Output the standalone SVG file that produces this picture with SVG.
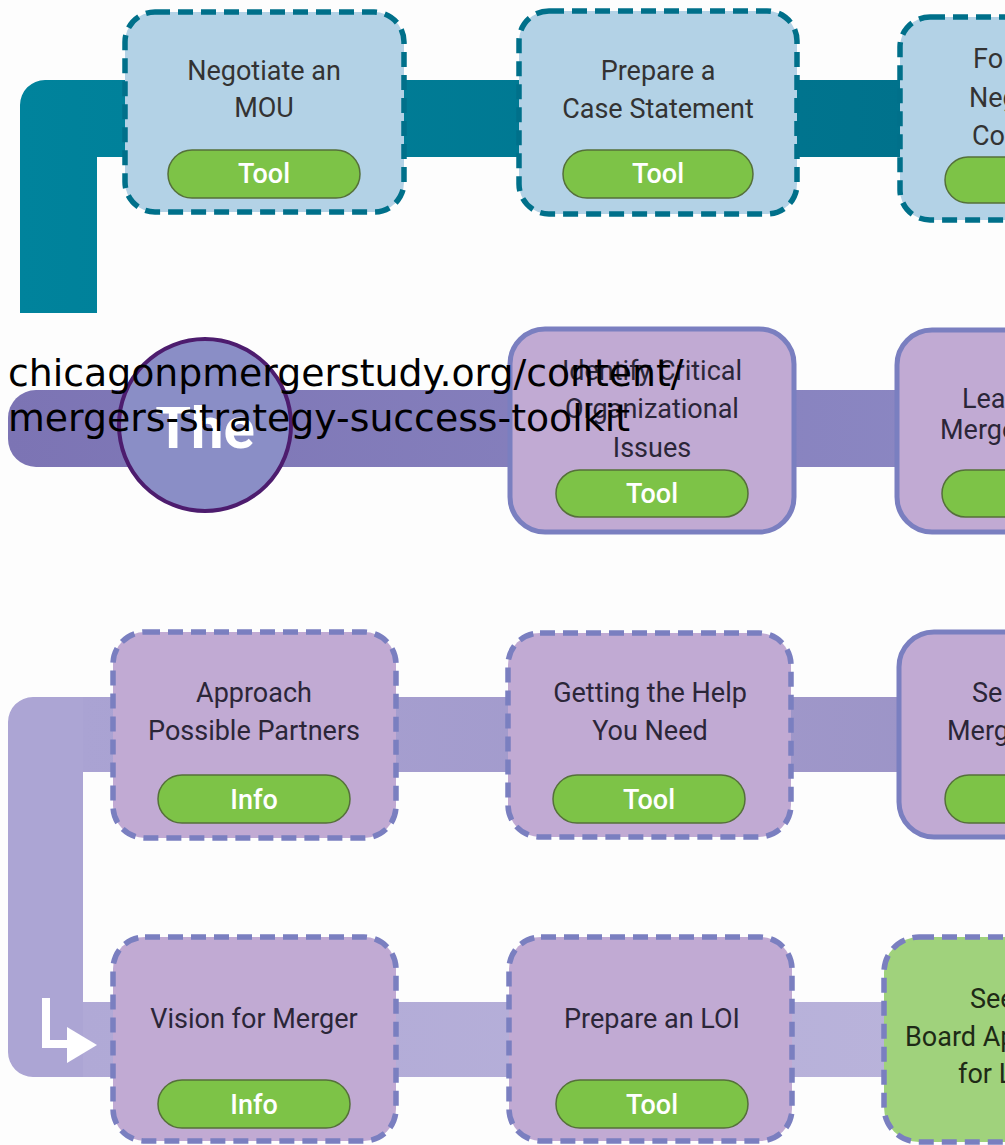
<svg xmlns="http://www.w3.org/2000/svg" width="1005" height="1145" viewBox="0 0 1005 1145">
<defs>
<linearGradient id="gTeal" x1="0" y1="0" x2="1" y2="0"><stop offset="0" stop-color="#00839c"/><stop offset="1" stop-color="#00728c"/></linearGradient>
<linearGradient id="gRow2" x1="0" y1="0" x2="1" y2="0"><stop offset="0" stop-color="#7c74b4"/><stop offset="1" stop-color="#8c88c3"/></linearGradient>
<linearGradient id="gRow3" x1="0" y1="0" x2="1" y2="0"><stop offset="0" stop-color="#aaa3d3"/><stop offset="1" stop-color="#9b93c6"/></linearGradient>
<linearGradient id="gRow4" x1="0" y1="0" x2="1" y2="0"><stop offset="0" stop-color="#b0a9d6"/><stop offset="1" stop-color="#bab4db"/></linearGradient>
<style>
.lbl{font-family:Roboto,"Liberation Sans",sans-serif;font-size:27px;fill:#333333;}
.lblp{font-family:Roboto,"Liberation Sans",sans-serif;font-size:27px;fill:#2b2638;}
.lblg{font-family:Roboto,"Liberation Sans",sans-serif;font-size:27px;fill:#1e2a16;}
.mid{text-anchor:middle;}
.btn{fill:#7dc347;stroke:#55703a;stroke-width:1.5;}
.btxt{font-family:Roboto,"Liberation Sans",sans-serif;font-size:27px;font-weight:500;fill:#ffffff;text-anchor:middle;}
.blue{fill:#b3d2e6;stroke:#00708a;stroke-width:5.5;stroke-dasharray:15 8;}
.purd{fill:#c1aad3;stroke:#7a7fc0;stroke-width:5.5;stroke-dasharray:15 8;}
.purs{fill:#c1aad3;stroke:#7a7fc0;stroke-width:5;}
.grn{fill:#a0d27c;stroke:#7a7fc0;stroke-width:5.5;stroke-dasharray:15 8;}
.url{font-family:"DejaVu Sans",sans-serif;font-size:37.8px;fill:#000000;}
</style>
</defs>
<rect width="1005" height="1145" fill="#fdfdfd"/>
<g id="connectors">
<path d="M20 313 V105 A25 25 0 0 1 45 80 H905 V157 H97 V313 Z" fill="url(#gTeal)"/>
<path d="M1005 390 H36 A28 28 0 0 0 8 418 V439 A28 28 0 0 0 36 467 H1005 Z" fill="url(#gRow2)"/>
<path d="M1005 697 H33 A25 25 0 0 0 8 722 V1052 A25 25 0 0 0 33 1077 H1005 V1002 H83 V772 H1005 Z" fill="#aca5d4"/>
<rect x="83" y="697" width="922" height="75" fill="url(#gRow3)"/>
<rect x="83" y="1002" width="922" height="75" fill="url(#gRow4)"/>
<path d="M46 998 V1044 H70" fill="none" stroke="#ffffff" stroke-width="8"/>
<polygon points="67,1027 97,1045 67,1063" fill="#ffffff"/>
</g>
<g id="start">
<circle cx="205" cy="425" r="86" fill="#8a8ec6" stroke="#4d1c6e" stroke-width="4"/>
<text x="205" y="448" class="mid" font-family="Roboto,'Liberation Sans',sans-serif" font-size="58" font-weight="bold" fill="#ffffff">The</text>
</g>
<g id="n1">
<rect class="blue" x="125" y="12" width="279" height="200" rx="30"/>
<text class="lbl mid" x="264" y="80">Negotiate an</text>
<text class="lbl mid" x="264" y="117">MOU</text>
<rect class="btn" x="168" y="150" width="192" height="48" rx="24"/>
<text class="btxt" x="264" y="183">Tool</text>
</g>
<g id="n2">
<rect class="blue" x="519" y="11" width="278" height="203" rx="30"/>
<text class="lbl mid" x="658" y="80">Prepare a</text>
<text class="lbl mid" x="658" y="118">Case Statement</text>
<rect class="btn" x="563" y="150" width="190" height="48" rx="24"/>
<text class="btxt" x="658" y="183">Tool</text>
</g>
<g id="n3">
<rect class="blue" x="900" y="17" width="300" height="203" rx="30"/>
<text class="lbl" x="973" y="68">Fo</text>
<text class="lbl" x="969" y="107">Neg</text>
<text class="lbl" x="972" y="145">Co</text>
<rect class="btn" x="945" y="157" width="200" height="46" rx="23"/>
</g>
<g id="n4">
<rect class="purs" x="510" y="329" width="284" height="203" rx="35"/>
<text class="lblp mid" x="652" y="380">Identify Critical</text>
<text class="lblp mid" x="652" y="418">Organizational</text>
<text class="lblp mid" x="652" y="457">Issues</text>
<rect class="btn" x="556" y="470" width="192" height="47" rx="23.5"/>
<text class="btxt" x="652" y="503">Tool</text>
</g>
<g id="n5">
<rect class="purs" x="897" y="330" width="300" height="202" rx="35"/>
<text class="lblp" x="962" y="408">Lea</text>
<text class="lblp" x="940" y="439">Merge</text>
<rect class="btn" x="942" y="470" width="200" height="47" rx="23.5"/>
</g>
<g id="n6">
<rect class="purd" x="113" y="632" width="283" height="206" rx="32"/>
<text class="lblp mid" x="254" y="702">Approach</text>
<text class="lblp mid" x="254" y="740">Possible Partners</text>
<rect class="btn" x="158" y="775" width="192" height="48" rx="24"/>
<text class="btxt" x="254" y="809">Info</text>
</g>
<g id="n7">
<rect class="purd" x="508" y="633" width="283" height="204" rx="32"/>
<text class="lblp mid" x="650" y="702">Getting the Help</text>
<text class="lblp mid" x="650" y="740">You Need</text>
<rect class="btn" x="553" y="775" width="192" height="48" rx="24"/>
<text class="btxt" x="649" y="809">Tool</text>
</g>
<g id="n8">
<rect class="purs" x="899" y="632" width="300" height="205" rx="35"/>
<text class="lblp" x="972" y="702">Se</text>
<text class="lblp" x="947" y="740">Merg</text>
<rect class="btn" x="945" y="775" width="200" height="48" rx="24"/>
</g>
<g id="n9">
<rect class="purd" x="113" y="937" width="283" height="204" rx="32"/>
<text class="lblp mid" x="254" y="1028">Vision for Merger</text>
<rect class="btn" x="158" y="1080" width="192" height="48" rx="24"/>
<text class="btxt" x="254" y="1114">Info</text>
</g>
<g id="n10">
<rect class="purd" x="509" y="937" width="283" height="204" rx="32"/>
<text class="lblp mid" x="652" y="1028">Prepare an LOI</text>
<rect class="btn" x="556" y="1080" width="192" height="48" rx="24"/>
<text class="btxt" x="652" y="1114">Tool</text>
</g>
<g id="n11">
<rect class="grn" x="884" y="937" width="300" height="205" rx="35"/>
<text class="lblg" x="970" y="1008">See</text>
<text class="lblg" x="905" y="1046">Board Ap</text>
<text class="lblg" x="958" y="1083">for L</text>
</g>
<g id="url">
<text class="url" x="8" y="386">chicagonpmergerstudy.org/content/</text>
<text class="url" x="8" y="431">mergers-strategy-success-toolkit</text>
</g>
</svg>
